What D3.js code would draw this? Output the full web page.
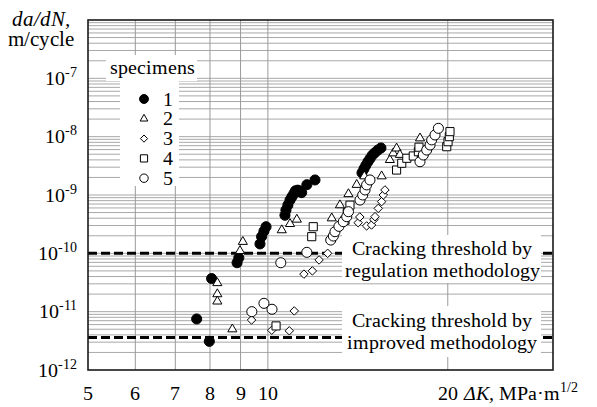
<!DOCTYPE html>
<html>
<head>
<meta charset="utf-8">
<script src="https://cdn.jsdelivr.net/npm/d3@7"></script>
<style>
  @font-face { font-family: "ChartSerif"; src: local("Liberation Serif"), local("LiberationSerif"); font-style: normal; }
  @font-face { font-family: "ChartSerif"; src: local("Liberation Serif Italic"), local("LiberationSerif-Italic"); font-style: italic; }
</style>
</head>
<body style="margin:0">
<svg id="chart" width="597" height="407"></svg>
<script>
// ΔK (MPa·m^1/2) and da/dN (m/cycle) for each specimen
const specimen1 = [
  [7.60, 7.5e-12], [7.98, 3.1e-12], [8.05, 3.7e-11], [8.88, 6.9e-11], [8.94, 8.4e-11],
  [9.70, 1.45e-10], [9.76, 1.93e-10], [9.85, 2.4e-10], [9.93, 2.86e-10],
  [10.68, 4.5e-10], [10.72, 5.5e-10], [10.80, 6.7e-10], [10.89, 8.2e-10], [10.97, 9.3e-10],
  [11.05, 1.05e-9], [11.12, 1.18e-9], [11.22, 1.21e-9], [11.31, 1.17e-9], [11.39, 1.1e-9],
  [11.62, 1.5e-9], [11.99, 1.81e-9],
  [14.37, 2.4e-9], [14.48, 2.8e-9], [14.58, 3.2e-9], [14.70, 3.7e-9], [14.82, 4.2e-9],
  [14.95, 4.8e-9], [15.10, 5.3e-9], [15.28, 5.9e-9], [15.46, 6.4e-9]
];
const specimen2 = [
  [8.23, 3.1e-11], [8.23, 2.0e-11], [8.23, 1.5e-11], [8.72, 5.0e-12], [8.98, 1.1e-10], [9.08, 1.58e-10],
  [10.55, 2.5e-10], [10.89, 3.2e-10], [11.18, 3.8e-10],
  [12.79, 4.0e-10], [13.20, 6.7e-10], [13.64, 1.04e-9], [14.08, 1.5e-9], [14.50, 2.1e-9],
  [15.50, 2.1e-9], [16.00, 4.0e-9], [16.21, 5.2e-9], [16.42, 6.3e-9], [16.63, 4.9e-9], [17.97, 9.4e-9]
];
const specimen3 = [
  [9.39, 7.2e-12], [10.15, 4.8e-12], [10.86, 4.7e-12], [11.07, 1.03e-11],
  [11.49, 4.4e-11], [11.87, 5.0e-11], [12.18, 7.7e-11], [12.59, 1.0e-10],
  [14.16, 3.35e-10], [14.25, 4.2e-10], [14.63, 2.95e-10], [14.91, 3.06e-10], [15.05, 3.8e-10],
  [15.11, 4.25e-10], [15.30, 5.9e-10], [15.50, 7.7e-10], [15.60, 1.0e-9], [15.70, 1.22e-9]
];
const specimen4 = [
  [10.32, 5.7e-12], [11.84, 1.93e-10], [11.91, 2.86e-10],
  [13.46, 3.7e-10], [13.58, 5.0e-10], [13.72, 6.7e-10],
  [16.42, 2.68e-9], [16.75, 3.5e-9], [17.08, 4.26e-9], [17.51, 4.67e-9], [17.86, 5.52e-9], [17.90, 6.6e-9],
  [19.92, 6.73e-9], [20.02, 8.2e-9], [20.12, 1.0e-8], [20.17, 1.22e-8]
];
const specimen5 = [
  [9.40, 1.0e-11], [9.85, 1.39e-11], [10.16, 1.1e-11], [10.51, 6.9e-11], [11.62, 1.04e-10],
  [12.74, 1.69e-10], [12.87, 1.98e-10], [12.95, 2.35e-10], [13.15, 2.9e-10], [13.37, 3.49e-10],
  [13.55, 4.25e-10], [13.64, 5.17e-10],
  [14.26, 8.2e-10], [14.41, 1.0e-9], [14.54, 1.22e-9], [14.63, 1.49e-9], [14.82, 1.81e-9],
  [17.97, 3.72e-9], [18.20, 4.85e-9], [18.44, 5.9e-9], [18.68, 7.2e-9], [18.80, 8.8e-9],
  [19.04, 1.07e-8], [19.29, 1.39e-8]
];

const specimenNames = ["1", "2", "3", "4", "5"];
const xTickLabels = [5, 6, 7, 8, 9, 10, 20];
const xGridValues = [6, 7, 8, 9, 10, 20];
const yDecadeExponents = [-12, -11, -10, -9, -8, -7];
const gridMultipliers = [1, 2, 3, 4, 5, 6, 7, 8, 9];
const thresholdRegulation = 1.0e-10;
const thresholdImproved = 3.6e-12;
const thresholdTexts = [
  ["Cracking threshold by", "regulation methodology"],
  ["Cracking threshold by", "improved methodology"]
];

const svg = d3.select("#chart");
const plotLeft = 88, plotRight = 553, plotTop = 20, plotBottom = 370;

// text helper so every label gets the serif face
function addText(parent, xPos, yPos, size) {
  return parent.append("text").attr("x", xPos).attr("y", yPos).attr("font-size", size)
    .style("font-family", '"ChartSerif", "Liberation Serif", "Times New Roman", serif');
}

const x = d3.scaleLog().domain([5, 30]).range([plotLeft, plotRight]);
const y = d3.scaleLog().domain([1e-12, 1e-6]).range([plotBottom, plotTop]);

// diamond symbol: square turned 45 degrees
const symbolRhomb = {
  draw(ctx, size) {
    const r = Math.sqrt(size / 2);
    ctx.moveTo(0, -r); ctx.lineTo(r, 0); ctx.lineTo(0, r); ctx.lineTo(-r, 0); ctx.closePath();
  }
};
const styles = [
  { type: d3.symbolCircle, size: 80, legendSize: 62, fill: "#000" },
  { type: d3.symbolTriangle, size: 36, legendSize: 26, fill: "#fff" },
  { type: symbolRhomb, size: 36, legendSize: 26, fill: "#fff" },
  { type: d3.symbolSquare, size: 66, legendSize: 52, fill: "#fff" },
  { type: d3.symbolCircle, size: 80, legendSize: 56, fill: "#fff" }
];
const series = [specimen1, specimen2, specimen3, specimen4, specimen5];

// horizontal grid
const yGrid = [];
yDecadeExponents.forEach(e => gridMultipliers.forEach(m => yGrid.push(m * Math.pow(10, e))));
svg.append("g").selectAll("line").data(yGrid.filter(v => v > 1e-12)).join("line")
  .attr("x1", plotLeft).attr("x2", plotRight)
  .attr("y1", d => y(d)).attr("y2", d => y(d))
  .attr("stroke", "#a8a8a8").attr("stroke-width", 1);

// vertical grid
svg.append("g").selectAll("line").data(xGridValues).join("line")
  .attr("x1", d => x(d)).attr("x2", d => x(d))
  .attr("y1", plotTop).attr("y2", plotBottom)
  .attr("stroke", "#9a9a9a").attr("stroke-width", 1);

// threshold lines
svg.append("g").selectAll("line").data([thresholdRegulation, thresholdImproved]).join("line")
  .attr("x1", plotLeft).attr("x2", plotRight)
  .attr("y1", d => y(d)).attr("y2", d => y(d))
  .attr("stroke", "#000").attr("stroke-width", 3)
  .attr("stroke-dasharray", "9,4");

// white panels behind the legend and threshold captions
const panels = svg.append("g").attr("fill", "#fff");
panels.append("rect").attr("x", 106).attr("y", 55).attr("width", 91).attr("height", 26);
panels.append("rect").attr("x", 120).attr("y", 80).attr("width", 59).attr("height", 106);
panels.append("rect").attr("x", 342).attr("y", 235).attr("width", 199).attr("height", 48);
panels.append("rect").attr("x", 342).attr("y", 306).attr("width", 199).attr("height", 51);

// data points
series.forEach((data, i) => {
  const st = styles[i];
  svg.append("g").selectAll("path").data(data).join("path")
    .attr("transform", d => `translate(${x(d[0])},${y(d[1])})`)
    .attr("d", d3.symbol().type(st.type).size(st.size))
    .attr("fill", st.fill).attr("stroke", "#000").attr("stroke-width", 1);
});

// frame
svg.append("rect").attr("x", plotLeft).attr("y", plotTop)
  .attr("width", plotRight - plotLeft).attr("height", plotBottom - plotTop)
  .attr("fill", "none").attr("stroke", "#1a1a1a").attr("stroke-width", 1.6);

// x tick labels
xTickLabels.forEach(v => addText(svg, x(v), 400, 20).attr("text-anchor", "middle").text(v));

// y tick labels: 10 with superscript exponent
yDecadeExponents.forEach(e => {
  const t = addText(svg, 77, y(Math.pow(10, e)) + 6.5, 20).attr("text-anchor", "end");
  t.append("tspan").text("10");
  t.append("tspan").attr("font-size", 14).attr("dy", -8).text("-" + Math.abs(e));
});

// axis titles
addText(svg, 12, 26, 21).attr("font-style", "italic").text("da/dN,");
addText(svg, 8, 46, 21).text("m/cycle");

const xt = addText(svg, 464, 400, 20);
xt.append("tspan").attr("font-style", "italic").text("ΔK,");
xt.append("tspan").text(" MPa·m");
xt.append("tspan").attr("font-size", 14).attr("dy", -8).text("1/2");

// legend
addText(svg, 110, 74, 20).text("specimens");
specimenNames.forEach((name, i) => {
  const cy = 99 + i * 19.8;
  const st = styles[i];
  svg.append("path").attr("transform", `translate(144,${cy})`)
    .attr("d", d3.symbol().type(st.type).size(st.legendSize))
    .attr("fill", st.fill).attr("stroke", "#000").attr("stroke-width", 1);
  addText(svg, 163, cy + 6.5, 20).text(name);
});

// threshold captions
const captionBaselines = [[255, 277], [327, 348.5]];
thresholdTexts.forEach((lines, i) => {
  lines.forEach((line, j) => {
    addText(svg, 442, captionBaselines[i][j], 20).attr("text-anchor", "middle").text(line);
  });
});
</script>
</body>
</html>
